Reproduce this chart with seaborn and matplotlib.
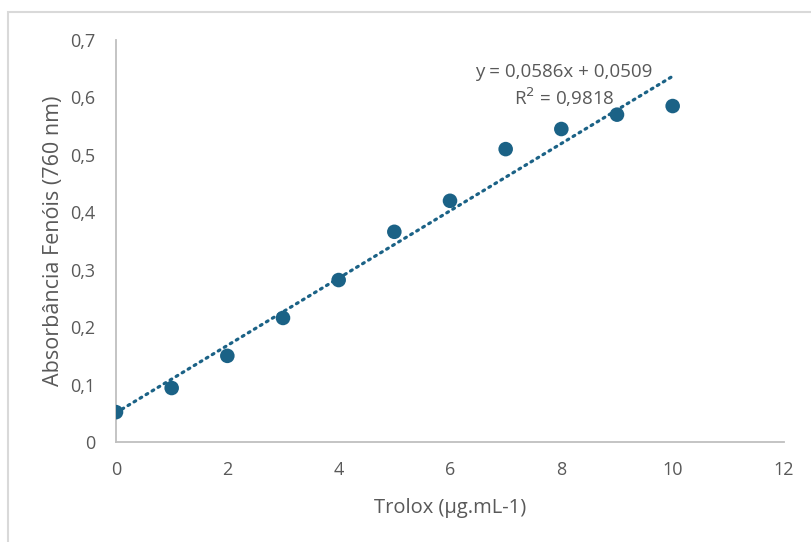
import matplotlib
matplotlib.use("Agg")
import matplotlib.pyplot as plt
import seaborn as sns
import numpy as np
import pandas as pd
from matplotlib.patches import Rectangle

# Data
trolox = [0, 1, 2, 3, 4, 5, 6, 7, 8, 9, 10]
absorbancia = [0.052, 0.094, 0.150, 0.216, 0.282, 0.366, 0.420, 0.510, 0.545, 0.570, 0.585]
slope = 0.0586
intercept = 0.0509
r2 = 0.9818
x_ticks = [0, 2, 4, 6, 8, 10, 12]
y_ticks = [0, 0.1, 0.2, 0.3, 0.4, 0.5, 0.6, 0.7]
y_tick_labels = ["0", "0,1", "0,2", "0,3", "0,4", "0,5", "0,6", "0,7"]
x_label = "Trolox (µg.mL-1)"
y_label = "Absorbância Fenóis (760 nm)"

sns.set_style("white")
plt.rcParams['font.family'] = ['Open Sans', 'DejaVu Sans']

point_color = "#1b6286"
text_color = "#595959"
axis_color = "#bfbfbf"

fig = plt.figure(figsize=(8.11, 5.42), dpi=100)
ax = fig.add_axes([116/811, 100/542, (784-116)/811, (442-40)/542])

df = pd.DataFrame({"x": trolox, "y": absorbancia})
trend_x = [trolox[0], trolox[-1]]
trend_df = pd.DataFrame({"x": trend_x, "y": [slope * v + intercept for v in trend_x]})

sns.lineplot(data=trend_df, x="x", y="y", ax=ax, color=point_color,
             linewidth=2.3, linestyle=(0, (0.6, 1.6)), zorder=2,
             solid_capstyle="round", dash_capstyle="round")
sns.scatterplot(data=df, x="x", y="y", ax=ax, color=point_color, s=110,
                edgecolor="none", zorder=3)

ax.set_xlim(0, 12)
ax.set_ylim(0, 0.7)
ax.set_xticks(x_ticks)
ax.set_xticklabels([str(v) for v in x_ticks])
ax.set_yticks(y_ticks)
ax.set_yticklabels(y_tick_labels)
ax.tick_params(axis="both", length=0, labelsize=13, labelcolor=text_color)
ax.tick_params(axis="x", pad=14)
ax.tick_params(axis="y", pad=15)

for s in ["top", "right"]:
    ax.spines[s].set_visible(False)
for s in ["left", "bottom"]:
    ax.spines[s].set_color(axis_color)
    ax.spines[s].set_linewidth(1.3)

ax.set_xlabel(x_label, fontsize=14.5, color=text_color, labelpad=13)
ax.set_ylabel(y_label, fontsize=15.5, color=text_color, labelpad=4)

eq = f"y = {slope:.4f}x + {intercept:.4f}".replace(".", ",")
r2txt = f"R$^2$ = {r2:.4f}".replace(".", ",")
ax.text(8.05, 0.645, eq, fontsize=13.5, color=text_color, ha="center", va="center")
ax.text(8.05, 0.601, r2txt, fontsize=13.5, color=text_color, ha="center", va="center")

fig.patches.append(Rectangle((8/811, -0.1), 1.2, 0.1 + (1 - 12/542),
                             transform=fig.transFigure, fill=False,
                             edgecolor="#d9d9d9", linewidth=1.5))

fig.savefig("out.png", dpi=100)
